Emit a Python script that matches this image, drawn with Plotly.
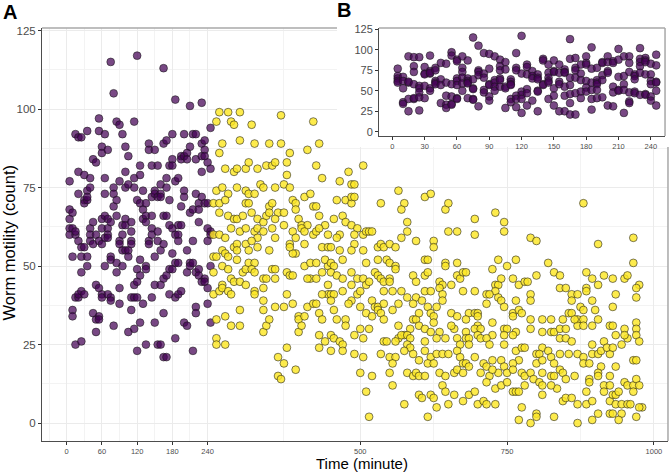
"""Worm motility over time: main scatter (A) with inset of the first 4 hours (B)."""

import plotly.graph_objects as go

# ---- data -----------------------------------------------------------------
# pre-treatment phase: counts per 5-minute time point
purple_time = [5, 10, 15, 20, 25, 30, 35, 40, 45, 50, 55, 60, 65, 70, 75, 80,
               85, 90, 95, 100, 105, 110, 115, 120, 125, 130, 135, 140, 145,
               150, 155, 160, 165, 170, 175, 180, 185, 190, 195, 200, 205, 210,
               215, 220, 225, 230, 235, 240, 245]
purple_counts = [
    [77, 68, 65, 62, 60], [67, 62, 53, 36, 34], [92, 60, 61, 40, 25],
    [91, 80, 73, 58, 40, 41], [91, 56, 53, 48, 42, 26], [79, 71, 70, 56, 41],
    [93, 74, 71, 72, 53, 50], [78, 75, 62, 60, 58], [84, 64, 57, 35],
    [83, 60, 44, 33, 29], [97, 93, 58, 43, 34, 33], [88, 86, 65, 62, 57, 41, 40],
    [92, 78, 73, 66, 59, 50], [87, 65, 62, 60, 59, 41], [115, 64, 53, 52, 40, 39],
    [105, 75, 73, 69, 31], [96, 71, 66, 51, 48], [95, 77, 58, 57, 43, 38],
    [92, 63, 60, 55, 50], [88, 80, 75, 65, 63, 55], [85, 76, 55, 53, 29],
    [64, 61, 58, 57, 40, 36], [96, 78, 75, 44, 40, 30], [117, 71, 49, 45, 40, 23],
    [82, 79, 70, 52, 47, 32], [74, 68, 65, 38], [70, 66, 64, 50, 49, 25],
    [89, 87, 58, 57], [82, 72, 66, 62, 60, 40], [87, 74, 73, 53, 44, 32],
    [82, 72, 61, 58, 25], [76, 73, 72, 55, 44, 25], [113, 89, 66, 57, 46, 35, 21],
    [90, 78, 75, 66, 47, 21], [82, 71, 63, 49, 41], [92, 84, 82, 62, 54, 49],
    [103, 77, 60, 51, 40, 27], [78, 63, 60, 58, 51, 41], [85, 84, 69, 63, 42],
    [92, 85, 74, 72, 32], [86, 84, 55, 48, 31], [101, 88, 67, 51, 50],
    [92, 68, 58, 51, 23], [92, 84, 73, 48, 37, 35], [70, 68, 64, 49, 47],
    [102, 89, 85, 80, 72, 45], [90, 87, 85, 70, 46, 45], [83, 70, 62, 58, 43, 38],
    [94, 81, 61, 60, 50, 32],
]

# post-treatment phase: (time, count) pairs, split in three time windows
yellow_early = [
    (260, 99), (275, 99), (295, 99), (255, 96), (280, 96), (285, 95), (315, 95),
    (365, 98), (420, 96), (260, 86), (265, 89), (295, 90), (320, 89), (345, 89),
    (365, 89), (380, 86), (410, 87), (430, 89), (425, 82), (435, 78),
    (270, 81), (285, 80), (290, 81), (305, 81), (310, 83), (325, 81), (340, 82),
    (350, 82), (355, 83), (375, 83), (375, 79), (255, 74), (265, 75), (275, 73),
    (290, 75), (305, 74), (310, 73), (320, 73), (330, 76), (335, 75), (355, 75),
    (370, 76), (380, 75), (385, 71), (390, 70), (405, 72), (415, 73),
    (250, 70), (260, 70), (270, 71), (305, 70), (310, 70), (345, 69), (350, 70),
    (360, 67), (370, 67), (390, 68), (420, 69), (425, 69), (430, 66),
    (260, 67), (275, 66), (285, 65), (290, 65), (300, 66), (315, 67), (325, 65),
    (335, 64), (340, 66), (345, 67), (355, 65), (370, 63), (395, 65), (400, 63),
    (410, 63), (420, 60), (440, 63), (445, 60), (250, 60), (260, 60), (280, 62),
    (295, 61), (305, 62), (320, 61), (325, 62), (335, 61), (350, 62), (385, 61),
    (400, 62), (405, 61), (425, 61), (430, 62),
    (250, 53), (255, 53), (270, 59), (265, 55), (270, 54), (275, 53), (250, 48),
    (265, 50), (275, 49), (280, 46), (285, 45), (300, 48), (305, 49), (250, 41),
    (260, 42), (265, 44), (265, 43), (275, 42), (280, 41), (295, 45), (295, 36),
    (280, 31), (295, 31), (270, 34), (255, 33), (255, 27), (255, 25), (270, 25),
    (285, 56), (290, 57), (290, 55), (290, 52), (310, 51), (320, 51), (315, 49),
    (320, 48), (305, 44), (320, 42), (320, 41), (335, 43), (335, 46), (340, 46),
    (350, 49), (355, 49), (355, 46), (355, 37), (335, 36), (335, 39), (335, 29),
    (340, 31), (345, 33), (360, 21), (360, 15), (365, 14), (370, 19), (375, 24),
    (390, 17), (375, 48), (380, 47), (385, 47), (375, 41), (385, 38), (370, 37),
    (395, 29), (395, 34), (395, 33), (400, 31), (405, 34), (410, 37), (420, 38),
    (425, 38), (430, 35), (435, 33), (430, 28), (440, 26), (430, 24), (405, 50),
    (415, 51), (425, 51), (415, 46), (410, 46), (425, 46), (435, 48), (445, 50),
    (440, 52), (445, 44), (445, 41), (435, 41), (435, 56), (445, 56), (380, 57),
    (390, 54), (385, 54), (405, 57), (390, 59), (380, 56), (325, 59), (305, 57),
    (310, 55), (315, 58), (325, 56), (345, 55), (355, 59),
]
yellow_mid = [
    (505, 82), (480, 80), (465, 77), (485, 76), (490, 76), (460, 71), (475, 71),
    (485, 70), (485, 72), (490, 72), (455, 65), (470, 66), (475, 64), (485, 63),
    (495, 62), (505, 60), (510, 61), (515, 61), (520, 61), (565, 74), (535, 70),
    (575, 70), (570, 68), (580, 64), (580, 61), (610, 72), (620, 73), (645, 68),
    (650, 70), (650, 61), (665, 61), (695, 65), (695, 60), (730, 67), (465, 60),
    (490, 60), (460, 59), (570, 59), (595, 58), (625, 58), (625, 56), (490, 57),
    (485, 55), (505, 55), (465, 55), (530, 56), (535, 57), (540, 56), (550, 57),
    (560, 56), (450, 56), (470, 52), (510, 51), (530, 52), (545, 52), (550, 51),
    (560, 50), (560, 49), (610, 52), (615, 52), (645, 51), (645, 50), (665, 51),
    (735, 52), (725, 49), (450, 51), (455, 50), (450, 48), (460, 47), (470, 46),
    (485, 48), (495, 46), (505, 46), (510, 44), (515, 45), (525, 48), (530, 47),
    (535, 46), (540, 45), (550, 46), (550, 45), (590, 47), (595, 45), (610, 47),
    (615, 48), (635, 45), (640, 44), (655, 44), (665, 47), (670, 46), (675, 48),
    (680, 48), (730, 44), (735, 44), (450, 41), (455, 41), (470, 42), (485, 44),
    (495, 41), (500, 42), (540, 42), (555, 42), (570, 42), (580, 40), (595, 40),
    (610, 42), (620, 42), (635, 43), (640, 41), (675, 42), (695, 42), (715, 41),
    (730, 42), (450, 39), (485, 39), (480, 38), (520, 39), (525, 37), (530, 37),
    (540, 38), (565, 38), (590, 38), (605, 39), (615, 37), (630, 37), (640, 39),
    (655, 35), (665, 34), (685, 35), (695, 35), (700, 35), (715, 38), (720, 41),
    (735, 40), (455, 36), (460, 33), (475, 33), (475, 31), (490, 28), (500, 37),
    (500, 30), (510, 35), (515, 30), (520, 34), (530, 36), (535, 35), (540, 33),
    (555, 36), (565, 31), (575, 28), (585, 30), (590, 33), (595, 33), (600, 31),
    (600, 35), (610, 30), (620, 35), (625, 34), (625, 32), (620, 29), (635, 29),
    (645, 27), (660, 30), (655, 31), (680, 33), (680, 29), (680, 27), (700, 31),
    (695, 30), (705, 30), (725, 28), (725, 32), (700, 34), (450, 28), (455, 27),
    (465, 26), (505, 27), (540, 26), (545, 26), (565, 27), (570, 28), (580, 28),
    (585, 27), (610, 26), (630, 27), (665, 27), (670, 25), (685, 27), (685, 25),
    (700, 28), (705, 27), (715, 27), (720, 25), (580, 25), (585, 24), (470, 25),
    (560, 26), (470, 23), (490, 22), (535, 22), (550, 21), (560, 21), (575, 23),
    (590, 22), (600, 20), (610, 23), (620, 21), (630, 22), (640, 22), (650, 22),
    (665, 23), (670, 21), (675, 19), (680, 19), (710, 19), (695, 21), (725, 20),
    (505, 21), (555, 19), (615, 19), (625, 19), (450, 23), (500, 16), (520, 15),
    (550, 16), (555, 12), (580, 16), (590, 15), (595, 16), (600, 15), (610, 15),
    (635, 16), (645, 15), (660, 16), (665, 17), (675, 16), (685, 18), (705, 16),
    (715, 18), (720, 15), (735, 16), (725, 17), (640, 12), (645, 10), (715, 13),
    (730, 11), (510, 10), (600, 9), (605, 8), (620, 9), (625, 8), (660, 9),
    (675, 7), (685, 9), (695, 10), (700, 6), (710, 7), (715, 6), (730, 6),
    (575, 6), (630, 5), (650, 6), (515, 2), (615, 2),
]
yellow_late = [
    (745, 64), (745, 61), (880, 70), (790, 59), (800, 58), (905, 57), (965, 59),
    (965, 51), (765, 52), (750, 50), (820, 51), (830, 48), (840, 47), (885, 48),
    (895, 46), (915, 47), (905, 44), (930, 46), (950, 46), (955, 47), (975, 44),
    (970, 43), (740, 46), (760, 46), (770, 44), (780, 45), (785, 45), (800, 47),
    (790, 41), (790, 39), (840, 43), (850, 43), (885, 43), (860, 41), (870, 41),
    (860, 39), (885, 42), (895, 39), (935, 41), (970, 40), (930, 37), (740, 39),
    (765, 39), (745, 37), (760, 35), (760, 34), (770, 36), (775, 35), (790, 33),
    (810, 33), (825, 33), (845, 33), (855, 35), (860, 35), (875, 37), (880, 36),
    (870, 33), (880, 33), (905, 33), (900, 36), (870, 31), (880, 31), (895, 31),
    (925, 31), (930, 31), (970, 32), (950, 30), (970, 30), (865, 33), (745, 30),
    (750, 30), (765, 29), (790, 30), (810, 29), (825, 29), (830, 29), (840, 30),
    (850, 30), (840, 27), (850, 27), (760, 28), (745, 28), (860, 26), (895, 25),
    (915, 26), (935, 28), (945, 25), (955, 27), (970, 28), (975, 26), (950, 28),
    (745, 25), (765, 23), (775, 24), (780, 24), (810, 24), (820, 23), (800, 22),
    (805, 22), (825, 21), (840, 22), (855, 22), (870, 22), (880, 21), (895, 22),
    (905, 22), (910, 23), (925, 22), (920, 24), (930, 24), (740, 20), (770, 20),
    (800, 19), (810, 20), (830, 19), (880, 19), (890, 19), (910, 18), (935, 18),
    (965, 20), (970, 20), (760, 19), (745, 18), (750, 16), (760, 17), (775, 16),
    (780, 15), (790, 16), (795, 14), (805, 13), (810, 16), (825, 15), (830, 15),
    (840, 17), (845, 16), (850, 14), (865, 15), (890, 14), (890, 13), (905, 16),
    (905, 15), (915, 12), (925, 15), (925, 12), (950, 13), (955, 12), (965, 12),
    (970, 14), (975, 12), (740, 12), (750, 13), (780, 12), (810, 12), (835, 11),
    (825, 12), (760, 10), (765, 10), (770, 10), (810, 9), (845, 7), (850, 8),
    (860, 8), (870, 6), (885, 10), (885, 6), (895, 7), (915, 10), (925, 7),
    (930, 9), (935, 9), (940, 10), (935, 6), (945, 6), (955, 6), (960, 6),
    (965, 10), (980, 5), (975, 5), (775, 5), (800, 3), (800, 2), (830, 2),
    (870, 0), (895, 1), (905, 3), (925, 3), (930, 3), (945, 3), (940, 1),
    (970, 2), (770, 1), (790, 0),
]

time_ticks = [0, 60, 120, 180, 240, 500, 750, 1000]
time_minor = [-30, 30, 90, 150, 210, 370, 625, 875]
count_ticks = [0, 25, 50, 75, 100, 125]
count_minor = [12.5, 37.5, 62.5, 87.5, 112.5]
inset_ticks = [0, 30, 60, 90, 120, 150, 180, 210, 240]

# ---- flatten ----------------------------------------------------------------
p_x = [t for t, counts in zip(purple_time, purple_counts) for _ in counts]
p_y = [c for counts in purple_counts for c in counts]
yellow = yellow_early + yellow_mid + yellow_late
y_x = [t for t, _ in yellow]
y_y = [c for _, c in yellow]

PURPLE = "rgba(68,1,84,0.72)"
YELLOW = "rgba(253,231,37,0.82)"
EDGE = dict(color="rgba(25,25,25,0.8)", width=0.7)
SIZE = 7.8
FONT = "Liberation Sans, Arial, sans-serif"
BORDER = "#a8a8a8"
AXIS = "#4d4d4d"

fig = go.Figure()
fig.add_trace(go.Scatter(x=p_x, y=p_y, mode="markers", xaxis="x", yaxis="y",
                         marker=dict(color=PURPLE, size=SIZE, line=EDGE)))
fig.add_trace(go.Scatter(x=y_x, y=y_y, mode="markers", xaxis="x", yaxis="y",
                         marker=dict(color=YELLOW, size=SIZE, line=EDGE)))
# empty subplot whose white background masks the main panel behind the inset
fig.add_trace(go.Scatter(x=[], y=[], xaxis="x2", yaxis="y2"))
fig.add_trace(go.Scatter(x=p_x, y=p_y, mode="markers", xaxis="x3", yaxis="y3",
                         marker=dict(color=PURPLE, size=SIZE, line=EDGE)))

axis_common = dict(showline=True, linecolor=AXIS, linewidth=1, ticks="outside",
                   ticklen=3, tickcolor="#333333", zeroline=False,
                   automargin=False, tickfont=dict(color=AXIS))

fig.update_layout(
    template="none",
    width=671, height=473,
    margin=dict(l=0, r=0, t=0, b=0),
    paper_bgcolor="white", plot_bgcolor="white",
    showlegend=False,
    font=dict(family=FONT, color=AXIS),
    xaxis=dict(axis_common, domain=[0.0626, 0.9955], range=[-42, 1024],
               anchor="y", tickvals=time_ticks,
               tickfont=dict(size=7.5, color=AXIS),
               showgrid=True, gridcolor="#ebebeb", gridwidth=1,
               minor=dict(tickvals=time_minor, showgrid=True,
                          gridcolor="#f3f3f3", gridwidth=1, ticks="")),
    yaxis=dict(axis_common, domain=[0.0677, 0.9408], range=[-5.7, 125.8],
               anchor="x", tickvals=count_ticks,
               tickfont=dict(size=11.5, color=AXIS),
               showgrid=True, gridcolor="#ebebeb", gridwidth=1,
               minor=dict(tickvals=count_minor, showgrid=True,
                          gridcolor="#f3f3f3", gridwidth=1, ticks="")),
    xaxis2=dict(domain=[0.5022, 1.0], anchor="y2", visible=False, range=[0, 1],
                automargin=False),
    yaxis2=dict(domain=[0.6892, 1.0], anchor="x2", visible=False, range=[0, 1],
                automargin=False),
    xaxis3=dict(axis_common, domain=[0.5648, 0.9911], range=[-12.4, 253.2],
                anchor="y3", tickvals=inset_ticks, showgrid=False,
                tickfont=dict(size=7.5, color=AXIS)),
    yaxis3=dict(axis_common, domain=[0.7125, 0.9408], range=[-5.2, 126.6],
                anchor="x3", tickvals=count_ticks, showgrid=False,
                tickfont=dict(size=11, color=AXIS)),
)

# panel borders (top/right) in light grey
fig.add_shape(type="line", xref="paper", yref="paper", x0=0.0626, x1=0.5022,
              y0=0.9408, y1=0.9408, line=dict(color=BORDER, width=1.5))
fig.add_shape(type="line", xref="paper", yref="paper", x0=0.9955, x1=0.9955,
              y0=0.0677, y1=0.6892, line=dict(color=BORDER, width=1.5))
fig.add_shape(type="line", xref="paper", yref="paper", x0=0.5648, x1=0.9911,
              y0=0.9408, y1=0.9408, line=dict(color=BORDER, width=1.5))
fig.add_shape(type="line", xref="paper", yref="paper", x0=0.9911, x1=0.9911,
              y0=0.7125, y1=0.9408, line=dict(color=BORDER, width=1.5))

# axis titles and panel letters
label = dict(xref="paper", yref="paper", showarrow=False,
             xanchor="center", yanchor="middle")
fig.add_annotation(label, text="Time (minute)", x=0.539, y=0.021,
                   font=dict(size=15, color="black", family=FONT))
fig.add_annotation(label, text="Worm motility (count)", x=0.014, y=0.488,
                   textangle=-90,
                   font=dict(size=16.5, color="black", family=FONT))
fig.add_annotation(label, text="<b>A</b>", x=0.0156, y=0.9746,
                   font=dict(size=20, color="black", family=FONT))
fig.add_annotation(label, text="<b>B</b>", x=0.513, y=0.978,
                   font=dict(size=20, color="black", family=FONT))

# the page's default body margin would offset the fixed-size figure
fig.write_html("out.html", config={"displayModeBar": False},
               post_script="document.body.style.margin = '0';")
